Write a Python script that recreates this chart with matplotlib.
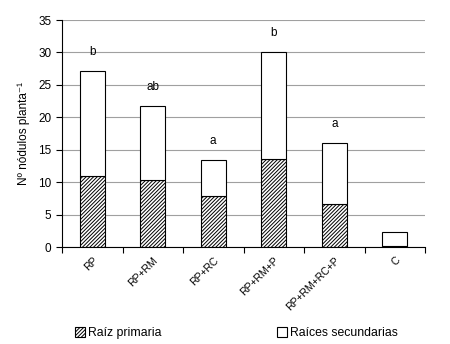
import matplotlib.pyplot as plt
import numpy as np

plt.rcParams['font.family'] = ['Liberation Sans', 'DejaVu Sans']

categorias = ['RP', 'RP+RM', 'RP+RC', 'RP+RM+P', 'RP+RM+RC+P', 'C']
raiz_primaria = [11.0, 10.3, 7.9, 13.5, 6.6, 0.2]
total = [27.1, 21.7, 13.4, 30.1, 16.1, 2.25]
letras = ['b', 'ab', 'a', 'b', 'a', '']

raices_sec = [t - p for t, p in zip(total, raiz_primaria)]
x = np.arange(len(categorias))

plt.rcParams['hatch.linewidth'] = 0.7
fig = plt.figure(figsize=(4.5, 3.44), dpi=100)
ax = fig.add_axes([62/450, 1 - 247/344, (425-62)/450, (247-20)/344])

ax.bar(x, raiz_primaria, 0.41, color='white', edgecolor='black', hatch='/////////',
       linewidth=0.8, label='Raíz primaria')
ax.bar(x, raices_sec, 0.41, bottom=raiz_primaria, color='white', edgecolor='black',
       linewidth=0.8, label='Raíces secundarias')

for xi, t, l in zip(x, total, letras):
    ax.text(xi, t + 2.9, l, ha='center', va='center', fontsize=8.5)

ax.set_ylim(0, 35)
ax.set_xlim(-0.5, len(categorias) - 0.5)
ax.set_yticks(range(0, 36, 5))
ax.yaxis.grid(True, color='#a0a0a0', linewidth=0.8)
ax.set_axisbelow(True)
for s in ['top', 'right']:
    ax.spines[s].set_visible(False)
ax.spines['left'].set_linewidth(0.8)
ax.spines['bottom'].set_linewidth(0.8)

ax.set_xticks(np.arange(len(categorias) + 1) - 0.5)
ax.set_xticklabels([])
ax.set_xticks(x, minor=True)
ax.set_xticklabels(categorias, minor=True, rotation=45, ha='right',
                   rotation_mode='anchor', fontsize=7.5)
ax.tick_params(axis='x', which='minor', length=0, pad=6)
ax.tick_params(axis='x', which='major', length=4, width=0.8)
ax.tick_params(axis='y', length=4, width=0.8, labelsize=8.5, colors='black')
ax.set_ylabel('Nº nódulos planta⁻¹', fontsize=8.5, labelpad=6)

fig.legend(loc='lower left', bbox_to_anchor=(64/450, -0.018), ncol=2, frameon=False,
           fontsize=8.8, handlelength=0.8, handleheight=0.8, handletextpad=0.3,
           columnspacing=9.4)

fig.savefig('out.png', dpi=100)
